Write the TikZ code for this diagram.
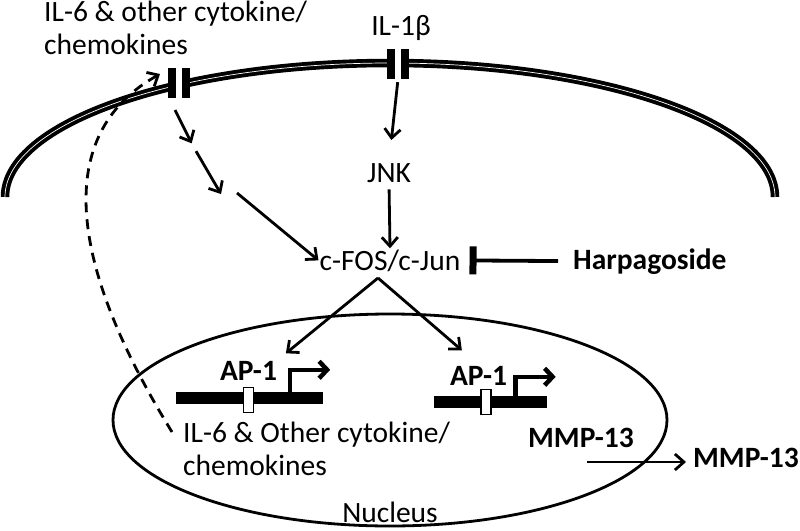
\documentclass[tikz,border=0pt]{standalone}
\usepackage{fontspec}
\setmainfont{Carlito}
\usetikzlibrary{arrows.meta}
\begin{document}
\begin{tikzpicture}[x=1pt,y=-1pt,
  lbl/.style={inner sep=1pt,font=\fontsize{29.5}{33}\selectfont},
  boldlbl/.style={inner sep=1pt,font=\fontsize{29.5}{33}\selectfont\bfseries},
  arr/.style={line width=2.8pt,-{Straight Barb[length=9pt,width=16pt]}},
  promarr/.style={line width=4.5pt,-{Straight Barb[length=8pt,width=17pt]}},
  inhib/.style={line width=3.8pt,-{Bar[width=28pt,line width=7pt]}},
  recep/.style={minimum width=22pt,minimum height=30pt,inner sep=0pt,fill=white,
    path picture={\fill[black] (path picture bounding box.north west) rectangle ([xshift=8pt]path picture bounding box.south west);
      \fill[black] (path picture bounding box.north east) rectangle ([xshift=-8pt]path picture bounding box.south east);}},
  genebar/.style={fill=black,minimum height=12pt,inner sep=0pt},
  sitebox/.style={draw=black,fill=white,line width=1.2pt,minimum width=10pt,minimum height=25pt,inner sep=0pt}]
\useasboundingbox (0,0) rectangle (800,530);
\draw[line width=3.9pt,double=white,double distance=0.7pt] (5,197) arc[start angle=180,end angle=360,x radius=385,y radius=134];
\node[recep] (recl) at (179,83) {};
\node[recep] (recr) at (398,64) {};
\node[lbl,anchor=base west,align=left] (il6) at (43,54) {IL-6 \& other cytokine/\\chemokines};
\node[lbl,anchor=base] (il1b) at (401,35) {IL-1β};
\node[lbl,anchor=base] (jnk) at (389,182) {JNK};
\node[lbl,anchor=base] (fos) at (390,270) {c-FOS/c-Jun};
\node[boldlbl,anchor=base west] (harp) at (572,269) {Harpagoside};
\draw[line width=2.8pt] (390,420) ellipse[x radius=277,y radius=106];
\node[lbl,anchor=base] (nucleus) at (390,522) {Nucleus};
\node[genebar,minimum width=147pt] (genea) at (249.5,398) {};
\node[genebar,minimum width=113pt] (geneb) at (490,402) {};
\node[sitebox] (sitea) at (248.5,400) {};
\node[sitebox] (siteb) at (486,402) {};
\node[boldlbl,anchor=base] (apa) at (248.5,380) {AP-1};
\node[boldlbl,anchor=base] (apb) at (478.5,385) {AP-1};
\node[lbl,anchor=base west,align=left] (il6in) at (182,475) {IL-6 \& Other cytokine/\\chemokines};
\node[boldlbl,anchor=base west] (mmpin) at (527,447) {MMP-13};
\node[boldlbl,anchor=base west] (mmpout) at (692,467) {MMP-13};
\coordinate (k1) at (175,110);
\coordinate (k2) at (193,146);
\coordinate (k3) at (221,194);
\coordinate (k4) at (237,193);
\coordinate (split) at (378,278);
\coordinate (dstart) at (172,432);
\coordinate (dend) at (160,74);
\coordinate (mstart) at (587,462);
\draw[arr,shorten <=3pt,shorten >=22pt] (recr.south) -- (jnk.north);
\draw[arr,shorten <=6pt] (jnk.south) -- (fos.north);
\draw[arr,shorten >=3pt] (k1) -- (k2);
\draw[arr,shorten <=6pt] (k2) -- (k3);
\draw[arr] (k4) -- (fos.west);
\draw[inhib,shorten <=14pt,shorten >=8pt] (harp.west) -- (fos.east);
\draw[arr,shorten >=10pt] (split) -- (apa.north east);
\draw[arr,shorten >=22pt] (split) -- (apb.north);
\draw[promarr] ([xshift=-33pt]genea.north east) |- ++(40,-22);
\draw[promarr] ([xshift=-31pt]geneb.north east) |- ++(40,-19);
\draw[arr,shorten >=6pt] (mstart) -- (mstart -| mmpout.west);
\draw[arr,dash pattern=on 10pt off 7pt] (dstart) .. controls (60,250) and (60,130) .. (dend);
\end{tikzpicture}
\end{document}
